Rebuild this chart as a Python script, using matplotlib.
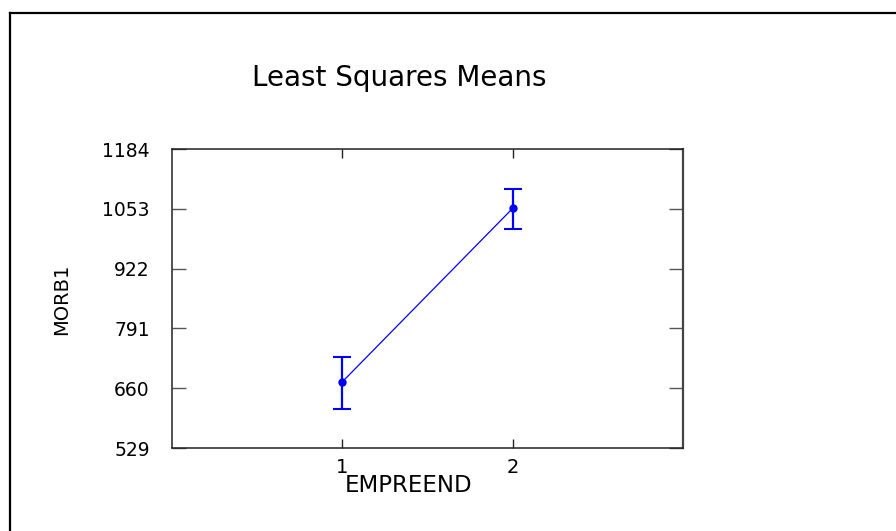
import matplotlib
matplotlib.use("Agg")
import matplotlib.pyplot as plt
from matplotlib.lines import Line2D

# Data
groups = [1, 2]
lsmeans = [674, 1054]
err_low = [59, 46]
err_high = [55, 43]
yticks = [529, 660, 791, 922, 1053, 1184]
title = "Least Squares Means"
xlabel = "EMPREEND"
ylabel = "MORB1"

plt.rcParams['font.family'] = ['DejaVu Sans']

fig = plt.figure(figsize=(8.96, 5.31), dpi=100)
ax = fig.add_axes([172/896, 1-448/531, (683-172)/896, (448-149)/531])

blue = (0, 0, 1)
ax.plot(groups, lsmeans, color=blue, lw=0.9, zorder=2)
ax.errorbar(groups, lsmeans, yerr=[err_low, err_high], fmt='none',
            ecolor=blue, elinewidth=1.6, capsize=6.5, capthick=1.5, zorder=3)
ax.plot(groups, lsmeans, 'o', color=blue, ms=5, zorder=4)

ax.set_xlim(0, 3)
ax.set_ylim(529, 1184)
ax.set_xticks(groups)
ax.set_xticklabels([str(g) for g in groups])
ax.set_yticks(yticks)
ax.set_yticklabels([str(v) for v in yticks])

ax.tick_params(axis='y', direction='in', length=10, width=1, color='#555555',
               left=True, right=True, labelsize=13.5, pad=16)
ax.tick_params(axis='x', direction='in', length=6.5, width=1, color='#222222',
               bottom=True, top=True, labelsize=14, pad=7)
for s in ax.spines.values():
    s.set_linewidth(1.1)
    s.set_color('#222222')
ax.spines['right'].set_linewidth(1.6)
ax.spines['right'].set_color('#444444')

fig.text(399/896, 1-86/531, title, ha='center', va='baseline', fontsize=20)
fig.text(409/896, 1-492/531, xlabel, ha='center', va='baseline', fontsize=16.5)
fig.text(62/896, 1-299/531, ylabel, ha='center', va='center', rotation=90, fontsize=14)

# outer frame
fx = 9.5/896
fy = 1-13/531
fig.add_artist(Line2D([fx, fx], [0, fy], transform=fig.transFigure, color='black', lw=1.6))
fig.add_artist(Line2D([fx, 1], [fy, fy], transform=fig.transFigure, color='black', lw=1.6))

fig.savefig("out.png", dpi=100)
